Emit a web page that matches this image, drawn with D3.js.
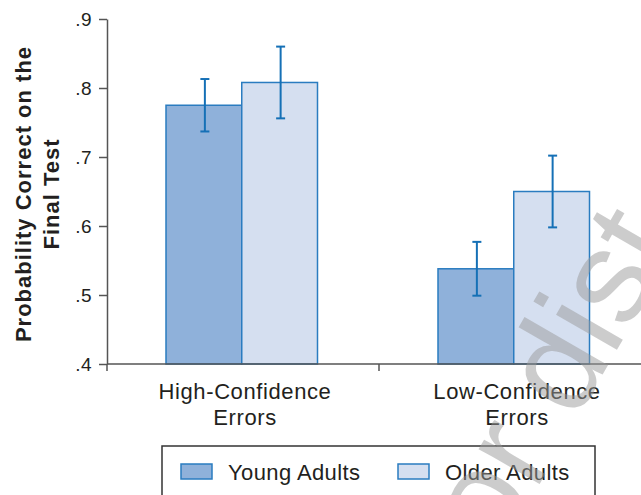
<!DOCTYPE html>
<html>
<head>
<meta charset="utf-8">
<script src="https://cdn.jsdelivr.net/npm/d3@7"></script>
<style>
  html, body { margin: 0; padding: 0; background: #fff; }
  svg { display: block; }
  text { font-family: "Liberation Sans", Arial, Helvetica, sans-serif; fill: #231f20; }
</style>
</head>
<body>
<svg id="chart" width="641" height="495"></svg>
<script>
// Conditions on the x axis (each label split over two lines)
const categories = ["High-Confidence Errors", "Low-Confidence Errors"];
const categoryLines = [["High-Confidence", "Errors"], ["Low-Confidence", "Errors"]];

// Age groups
const seriesNames = ["Young Adults", "Older Adults"];

// Mean probability correct and standard error per condition
const youngMeans = [0.775, 0.538];
const youngErrors = [0.038, 0.039];
const olderMeans = [0.808, 0.650];
const olderErrors = [0.052, 0.052];

// Y-axis ticks
const yTicks = [0.4, 0.5, 0.6, 0.7, 0.8, 0.9];

const fills = ["#8fb1da", "#d5dff0"];
const barStroke = "#2a7cc0";
const errColor = "#1570b6";
const axisColor = "#555";

const svg = d3.select("#chart");

const y = d3.scaleLinear().domain([0.4, 0.9]).range([364, 19]);
const x0 = d3.scaleBand().domain(categories).range([107, 651]);
const x1 = d3.scaleBand().domain(seriesNames).range([59, 210.5]);
const color = d3.scaleOrdinal().domain(seriesNames).range(fills);

const rows = categories.map((c, i) => ({
  category: c,
  values: [
    { series: seriesNames[0], mean: youngMeans[i], se: youngErrors[i] },
    { series: seriesNames[1], mean: olderMeans[i], se: olderErrors[i] }
  ]
}));

// Bars
const groups = svg.append("g").selectAll("g")
  .data(rows)
  .join("g")
  .attr("transform", d => `translate(${x0(d.category)},0)`);

groups.selectAll("rect")
  .data(d => d.values)
  .join("rect")
  .attr("x", d => x1(d.series))
  .attr("y", d => y(d.mean))
  .attr("width", x1.bandwidth())
  .attr("height", d => y(0.4) - y(d.mean))
  .attr("fill", d => color(d.series))
  .attr("stroke", barStroke)
  .attr("stroke-width", 1.5);

// Error bars
const capHalf = 4.5;
const eb = groups.selectAll("g.err")
  .data(d => d.values)
  .join("g")
  .attr("class", "err")
  .attr("stroke", errColor)
  .attr("stroke-width", 2);
eb.append("line")
  .attr("x1", d => x1(d.series) + x1.bandwidth() / 2 + 1)
  .attr("x2", d => x1(d.series) + x1.bandwidth() / 2 + 1)
  .attr("y1", d => y(d.mean + d.se))
  .attr("y2", d => y(d.mean - d.se));
eb.selectAll("line.cap")
  .data(d => [d.mean + d.se, d.mean - d.se].map(v => ({ v, cx: x1(d.series) + x1.bandwidth() / 2 + 1 })))
  .join("line")
  .attr("class", "cap")
  .attr("x1", d => d.cx - capHalf)
  .attr("x2", d => d.cx + capHalf)
  .attr("y1", d => y(d.v))
  .attr("y2", d => y(d.v));

// Y axis
const yAxis = svg.append("g")
  .attr("transform", "translate(107,0)")
  .call(d3.axisLeft(y)
    .tickValues(yTicks)
    .tickSize(8)
    .tickSizeOuter(0)
    .tickPadding(7)
    .tickFormat(d => d3.format(".1f")(d).replace(/^0/, "")));
yAxis.select(".domain").attr("stroke", axisColor).attr("stroke-width", 1.5);
yAxis.selectAll(".tick line").attr("stroke", axisColor).attr("stroke-width", 1.5);
yAxis.selectAll(".tick text")
  .attr("font-size", 19)
  .attr("font-family", null)
  .style("letter-spacing", "0.5px")
  .attr("dy", "0.36em");

// X axis baseline with boundary ticks between conditions
svg.append("line")
  .attr("x1", 107).attr("x2", 641)
  .attr("y1", y(0.4)).attr("y2", y(0.4))
  .attr("stroke", axisColor).attr("stroke-width", 1.5);
svg.append("g").selectAll("line")
  .data(categories)
  .join("line")
  .attr("x1", d => x0(d)).attr("x2", d => x0(d))
  .attr("y1", y(0.4)).attr("y2", y(0.4) + 7)
  .attr("stroke", axisColor).attr("stroke-width", 1.5);

// Category labels
const catLabels = svg.append("g").selectAll("text")
  .data(categories)
  .join("text")
  .attr("text-anchor", "middle")
  .attr("font-size", 22)
  .style("letter-spacing", "0.6px");
catLabels.selectAll("tspan")
  .data((d, i) => categoryLines[i].map(t => ({ t, cx: x0(d) + x0.bandwidth() / 2 + 2 })))
  .join("tspan")
  .attr("x", d => d.cx)
  .attr("y", (d, j) => 399 + j * 26)
  .text(d => d.t);

// Y axis title
const yTitle = svg.append("text")
  .attr("transform", "translate(0,194) rotate(-90)")
  .attr("text-anchor", "middle")
  .attr("font-size", 22)
  .attr("font-weight", "bold")
  .style("letter-spacing", "1px");
yTitle.append("tspan").attr("x", 0).attr("y", 31).text("Probability Correct on the");
yTitle.append("tspan").attr("x", 0).attr("y", 59).text("Final Test");

// Legend
const legend = svg.append("g");
legend.append("rect")
  .attr("x", 162).attr("y", 446)
  .attr("width", 433).attr("height", 70)
  .attr("fill", "none")
  .attr("stroke", "#333")
  .attr("stroke-width", 1.5);
const legendX = [181, 398];
const items = legend.selectAll("g.item")
  .data(seriesNames)
  .join("g")
  .attr("class", "item")
  .attr("transform", (d, i) => `translate(${legendX[i]},464)`);
items.append("rect")
  .attr("width", 31).attr("height", 15)
  .attr("fill", d => color(d))
  .attr("stroke", barStroke)
  .attr("stroke-width", 1.5);
items.append("text")
  .attr("x", 47).attr("y", 15.5)
  .attr("font-size", 22)
  .style("letter-spacing", "0.4px")
  .text(d => d);

// Diagonal watermark laid faintly over the chart
svg.append("text")
  .attr("transform", "translate(498,556) rotate(-60)")
  .attr("font-size", 133)
  .style("fill", "#9a9a9a")
  .style("fill-opacity", 0.5)
  .text("or dist");
</script>
</body>
</html>
